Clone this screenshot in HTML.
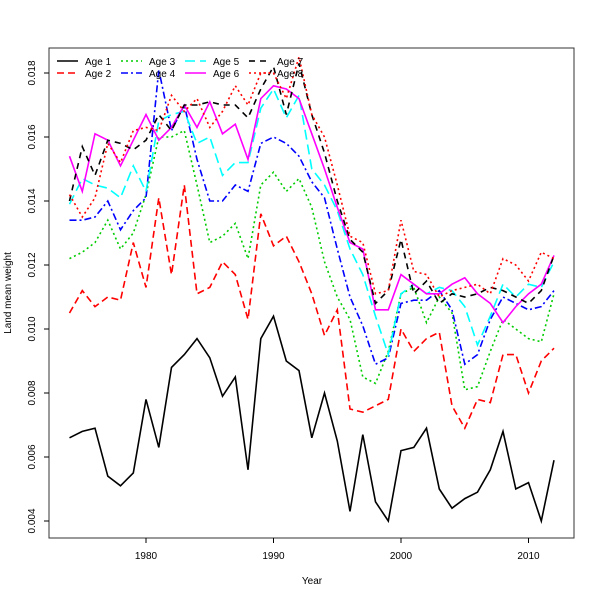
<!DOCTYPE html>
<html><head><meta charset="utf-8"><style>
body{margin:0;background:#fff;}
svg{display:block;font-family:"Liberation Sans","DejaVu Sans",sans-serif;}
</style></head><body>
<svg id="chart" width="600" height="600"></svg>
<script>
const years=[];for(let y=1974;y<=2012;y++)years.push(y);
const age1=[0.0066,0.0068,0.0069,0.0054,0.0051,0.0055,0.0078,0.0063,0.0088,0.0092,0.0097,0.0091,0.0079,0.0085,0.0056,0.0097,0.0104,0.0090,0.0087,0.0066,0.0080,0.0065,0.0043,0.0067,0.0046,0.0040,0.0062,0.0063,0.0069,0.0050,0.0044,0.0047,0.0049,0.0056,0.0068,0.0050,0.0052,0.0040,0.0059];
const age2=[0.0105,0.0112,0.0107,0.0110,0.0109,0.0127,0.0113,0.0141,0.0117,0.0145,0.0111,0.0113,0.0121,0.0117,0.0103,0.0136,0.0126,0.0129,0.0121,0.0111,0.0098,0.0106,0.0075,0.0074,0.0076,0.0078,0.0100,0.0093,0.0097,0.0099,0.0076,0.0069,0.0078,0.0077,0.0092,0.0092,0.0080,0.0090,0.0094];
const age3=[0.0122,0.0124,0.0127,0.0134,0.0125,0.0130,0.0142,0.0160,0.0160,0.0162,0.0145,0.0127,0.0129,0.0133,0.0122,0.0145,0.0149,0.0143,0.0147,0.0138,0.0121,0.0110,0.0103,0.0085,0.0083,0.0093,0.0111,0.0113,0.0102,0.0110,0.0105,0.0081,0.0082,0.0093,0.0103,0.0100,0.0097,0.0096,0.0111];
const age4=[0.0134,0.0134,0.0135,0.0140,0.0131,0.0137,0.0141,0.0181,0.0162,0.0170,0.0153,0.0140,0.0140,0.0145,0.0143,0.0158,0.0160,0.0158,0.0154,0.0146,0.0141,0.0125,0.0110,0.0101,0.0089,0.0091,0.0108,0.0109,0.0109,0.0112,0.0106,0.0089,0.0092,0.0103,0.0110,0.0108,0.0106,0.0107,0.0112];
const age5=[0.0139,0.0147,0.0145,0.0144,0.0141,0.0151,0.0143,0.0165,0.0167,0.0168,0.0158,0.0160,0.0148,0.0152,0.0152,0.0169,0.0175,0.0166,0.0173,0.0150,0.0145,0.0137,0.0125,0.0117,0.0104,0.0092,0.0111,0.0114,0.0111,0.0113,0.0112,0.0107,0.0095,0.0104,0.0114,0.0110,0.0114,0.0113,0.0121];
const age6=[0.0154,0.0143,0.0161,0.0159,0.0151,0.0159,0.0167,0.0159,0.0163,0.0170,0.0163,0.0171,0.0161,0.0164,0.0153,0.0172,0.0176,0.0175,0.0172,0.0161,0.0150,0.0138,0.0127,0.0125,0.0106,0.0106,0.0117,0.0114,0.0111,0.0111,0.0114,0.0116,0.0111,0.0108,0.0102,0.0107,0.0111,0.0114,0.0123];
const age7=[0.0140,0.0157,0.0148,0.0159,0.0158,0.0156,0.0159,0.0167,0.0162,0.0170,0.0170,0.0171,0.0170,0.0170,0.0166,0.0175,0.0182,0.0167,0.0183,0.0167,0.0155,0.0140,0.0128,0.0124,0.0108,0.0112,0.0128,0.0111,0.0115,0.0108,0.0111,0.0110,0.0111,0.0113,0.0112,0.0110,0.0108,0.0112,0.0123];
const age8=[0.0142,0.0135,0.0141,0.0158,0.0152,0.0162,0.0163,0.0162,0.0173,0.0168,0.0172,0.0163,0.0168,0.0176,0.0170,0.0180,0.0180,0.0172,0.0185,0.0167,0.0160,0.0145,0.0129,0.0127,0.0111,0.0112,0.0134,0.0118,0.0117,0.0110,0.0112,0.0113,0.0114,0.0111,0.0122,0.0120,0.0115,0.0124,0.0122];
const xTicks=[1980,1990,2000,2010];
const yTicks=[0.004,0.006,0.008,0.010,0.012,0.014,0.016,0.018];
const seriesNames=["Age 1","Age 2","Age 3","Age 4","Age 5","Age 6","Age 7","Age 8"];

const NS="http://www.w3.org/2000/svg";
const svg=document.getElementById('chart');
const X=v=>146+(v-1980)*12.75;
const Y=v=>73+(0.018-v)/0.002*64;
function mk(tag,attrs,parent){const e=document.createElementNS(NS,tag);for(const k in attrs)e.setAttribute(k,attrs[k]);(parent||svg).appendChild(e);return e;}

const styles=[
 {c:"#000",d:"none"},{c:"#f00",d:"7,4"},{c:"#0c0",d:"2,3"},{c:"#00f",d:"7,3,2,3"},
 {c:"#0ff",d:"10,5"},{c:"#f0f",d:"none"},{c:"#000",d:"6,5"},{c:"#f00",d:"2,3"}];
const data=[age1,age2,age3,age4,age5,age6,age7,age8];

data.forEach((s,i)=>{
 const pts=s.map((v,j)=>X(years[j]).toFixed(1)+","+Y(v).toFixed(1)).join(" ");
 const p=mk('polyline',{points:pts,fill:"none",stroke:styles[i].c,"stroke-width":1.6,"stroke-dasharray":styles[i].d});
 
 
});

const frame=mk('rect',{x:49,y:48,width:525,height:490,fill:"none",stroke:"#333","stroke-width":1});



xTicks.forEach(t=>{
 mk('line',{x1:X(t),x2:X(t),y1:538,y2:543,stroke:"#000"});
 const tx=mk('text',{x:X(t),y:559,"font-size":10,"text-anchor":"middle"});tx.textContent=t;
 
 
});
yTicks.forEach(t=>{
 mk('line',{x1:44,x2:49,y1:Y(t),y2:Y(t),stroke:"#000"});
 const tx=mk('text',{x:35,y:Y(t),"font-size":10,"text-anchor":"middle",transform:`rotate(-90 35 ${Y(t)})`});tx.textContent=t.toFixed(3);
 
 
});
const xt=mk('text',{x:312,y:584,"font-size":10,"text-anchor":"middle"});xt.textContent="Year";


const yt=mk('text',{x:11,y:293,"font-size":10,"text-anchor":"middle",transform:"rotate(-90 11 293)"});yt.textContent="Land mean weight";



seriesNames.forEach((n,i)=>{
 const col=Math.floor(i/2),row=i%2;
 const x0=57+col*64,y0=61+row*12;
 const g=mk('g',{});
 
 
 mk('line',{x1:x0,x2:x0+21,y1:y0,y2:y0,stroke:styles[i].c,"stroke-width":1.6,"stroke-dasharray":styles[i].d},g);
 const t=mk('text',{x:x0+28,y:y0+4,"font-size":10},g);t.textContent=n;
});
</script>
</body></html>
